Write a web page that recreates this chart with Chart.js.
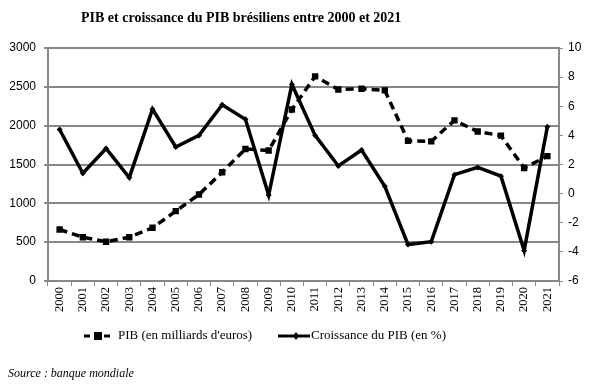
<!DOCTYPE html>
<html>
<head>
<meta charset="utf-8">
<script src="https://cdn.jsdelivr.net/npm/chart.js@4"></script>
<style>
  body { margin: 0; background: #fff; }
  #wrap { position: relative; width: 592px; height: 390px; }
</style>
</head>
<body>
<div id="wrap"><canvas id="chart" width="592" height="390"></canvas></div>
<script>
// Données
const years = ["2000", "2001", "2002", "2003", "2004", "2005", "2006", "2007", "2008", "2009", "2010",
               "2011", "2012", "2013", "2014", "2015", "2016", "2017", "2018", "2019", "2020", "2021"];
const pib = [663, 564, 505, 564, 685, 900, 1114, 1400, 1700, 1680, 2208,
             2635, 2465, 2475, 2455, 1805, 1798, 2068, 1925, 1872, 1455, 1608];
const croissance = [4.4, 1.4, 3.1, 1.1, 5.8, 3.2, 4.0, 6.1, 5.1, -0.1, 7.5,
                    4.0, 1.9, 3.0, 0.5, -3.5, -3.3, 1.3, 1.8, 1.2, -3.9, 4.6];
const pibTicks = [0, 500, 1000, 1500, 2000, 2500, 3000];
const croissanceTicks = [-6, -4, -2, 0, 2, 4, 6, 8, 10];

const titleText = "PIB et croissance du PIB brésiliens entre 2000 et 2021";
const sourceText = "Source : banque mondiale";

// titre, légende et source dessinés à la main
const decor = {
  id: "decor",
  afterDraw(chart) {
    const c = chart.ctx;
    c.save();
    c.fillStyle = "#000";
    c.textBaseline = "middle";
    c.font = "bold 14px 'Liberation Serif'";
    c.fillText(titleText, 81, 18);

    // légende
    const ly = 336;
    c.strokeStyle = "#000";
    c.lineWidth = 3;
    c.setLineDash([6, 4]);
    c.beginPath(); c.moveTo(84, ly); c.lineTo(113, ly); c.stroke();
    c.setLineDash([]);
    c.fillRect(94, ly - 4, 8, 8);
    c.font = "13px 'Liberation Serif'";
    c.fillText(chart.data.datasets[0].label, 118, ly);

    c.beginPath(); c.moveTo(278, ly); c.lineTo(310, ly); c.stroke();
    c.beginPath();
    c.moveTo(296, ly - 4); c.lineTo(299, ly); c.lineTo(296, ly + 4); c.lineTo(293, ly);
    c.closePath(); c.fill();
    c.fillText(chart.data.datasets[1].label, 311, ly);

    c.font = "italic 12px 'Liberation Serif'";
    c.fillText(sourceText, 8, 374);
    c.restore();
  }
};

const grey = "#888888";

new Chart(document.getElementById("chart").getContext("2d"), {
  type: "line",
  data: {
    labels: years,
    datasets: [{
      label: "PIB (en milliards d'euros)",
      data: pib,
      yAxisID: "y",
      borderColor: "#000",
      borderWidth: 3.5,
      borderDash: [8, 5],
      pointStyle: "rect",
      pointRadius: 4.5,
      pointBackgroundColor: "#000",
      pointBorderWidth: 0,
      tension: 0
    }, {
      label: "Croissance du PIB (en %)",
      data: croissance,
      yAxisID: "y1",
      borderColor: "#000",
      borderWidth: 3.5,
      pointStyle: "rectRot",
      pointRadius: 3,
      pointBackgroundColor: "#000",
      pointBorderWidth: 0,
      tension: 0
    }]
  },
  options: {
    responsive: false,
    animation: false,
    layout: { padding: { top: 48, bottom: 0, left: 0, right: 0 } },
    plugins: {
      legend: { display: false },
      title: { display: false },
      tooltip: { enabled: false }
    },
    scales: {
      x: {
        offset: true,
        grid: { offset: true, drawOnChartArea: false, color: grey, lineWidth: 1, tickLength: 5 },
        border: { color: grey, width: 2 },
        ticks: {
          autoSkip: false, minRotation: 90, maxRotation: 90, padding: 1,
          color: "#000", font: { family: "Liberation Serif", size: 12.5 }
        },
        afterFit(s) { s.height = 109; }
      },
      y: {
        position: "left",
        min: 0, max: 3000,
        afterBuildTicks(s) { s.ticks = pibTicks.map(v => ({ value: v })); },
        grid: { color: grey, lineWidth: 2, tickLength: 4 },
        border: { color: grey, width: 2 },
        ticks: {
          padding: 8, color: "#000", font: { family: "Liberation Sans", size: 12 },
          callback: v => String(v)
        },
        afterFit(s) { s.width = 48; }
      },
      y1: {
        position: "right",
        min: -6, max: 10,
        afterBuildTicks(s) { s.ticks = croissanceTicks.map(v => ({ value: v })); },
        grid: { drawOnChartArea: false, color: grey, lineWidth: 1, tickLength: 4 },
        border: { color: grey, width: 2 },
        ticks: {
          padding: 5, color: "#000", font: { family: "Liberation Sans", size: 12 },
          callback: v => String(v)
        },
        afterFit(s) { s.width = 33; }
      }
    }
  },
  plugins: [decor]
});
</script>
</body>
</html>
